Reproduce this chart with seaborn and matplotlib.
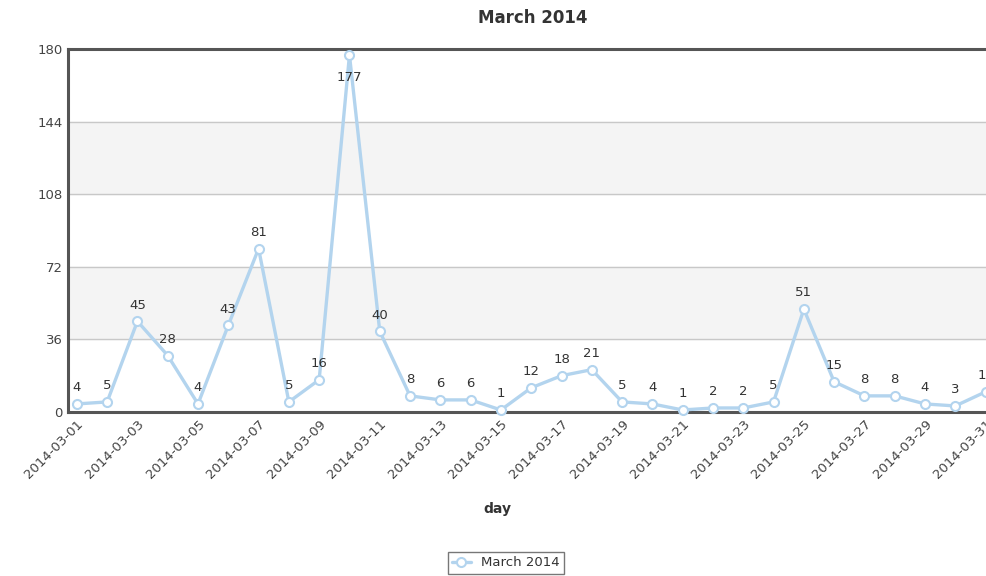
import pandas as pd
import matplotlib
matplotlib.use('Agg')
import matplotlib.pyplot as plt
import matplotlib.dates as mdates
import seaborn as sns

# daily counts
days = pd.date_range('2014-03-01', '2014-03-31', freq='D')
counts = [4, 5, 45, 28, 4, 43, 81, 5, 16, 177, 40, 8, 6, 6, 1, 12, 18, 21,
          5, 4, 1, 2, 2, 5, 51, 15, 8, 8, 4, 3, 10]
series_name = 'March 2014'
y_ticks = [0, 36, 72, 108, 144, 180]

df = pd.DataFrame({'day': days, 'count': counts})

sns.set_style('white')
plt.rcParams['font.family'] = ['DejaVu Sans']

fig = plt.figure(figsize=(9.86, 5.76), dpi=100)
ax = fig.add_axes([68 / 986, 1 - 412 / 576, (1002 - 68) / 986, (412 - 49) / 576])

# alternating bands
for lo, hi in [(36, 72), (108, 144)]:
    ax.axhspan(lo, hi, color='#f4f4f4', zorder=0)
for y in y_ticks[1:-1]:
    ax.axhline(y, color='#c8c8c8', lw=1, zorder=1)

line_col = '#b3d4ee'
sns.lineplot(data=df, x='day', y='count', ax=ax, color=line_col, lw=2.4,
             marker='o', markersize=6.5, markerfacecolor='white',
             markeredgecolor=line_col, markeredgewidth=1.5,
             label=series_name, zorder=3, clip_on=False)

for d, c in zip(days, counts):
    off = -16 if c == 177 else 7
    ax.annotate(str(c), (d, c), xytext=(0, off), textcoords='offset points',
                ha='center', va='bottom' if off > 0 else 'center',
                fontsize=9.5, color='#333333', zorder=4)

ax.set_ylim(0, 180)
ax.set_yticks(y_ticks)
ax.set_xlim(days[0] - pd.Timedelta(hours=7), days[-1] + pd.Timedelta(hours=13))
ax.set_xticks(days[::2])
ax.xaxis.set_major_formatter(mdates.DateFormatter('%Y-%m-%d'))
plt.setp(ax.get_xticklabels(), rotation=45, ha='right', rotation_mode='anchor')
ax.tick_params(axis='both', labelsize=9.5, colors='#444444', length=0, pad=4)

for s in ['left', 'top', 'bottom']:
    ax.spines[s].set_color('#555555')
    ax.spines[s].set_linewidth(2.2)
ax.spines['right'].set_visible(False)

ax.set_ylabel('')
ax.set_xlabel('day', fontsize=10, fontweight='bold', color='#333333')
ax.xaxis.set_label_coords((497 - 68) / (1002 - 68), -(502 - 412) / (412 - 49))
fig.text(533 / 986, 1 - 18 / 576, 'March 2014', ha='center', va='center',
         fontsize=12, fontweight='bold', color='#333333')

leg = ax.legend(loc='center', fontsize=9.5, frameon=True, fancybox=False,
                handlelength=1.4, borderpad=0.35)
leg.set_bbox_to_anchor((506 / 986, 1 - 563 / 576), transform=fig.transFigure)
leg.get_frame().set_edgecolor('#555555')
leg.get_frame().set_linewidth(1)
for t in leg.get_texts():
    t.set_color('#333333')

fig.savefig('out.png', dpi=100)
